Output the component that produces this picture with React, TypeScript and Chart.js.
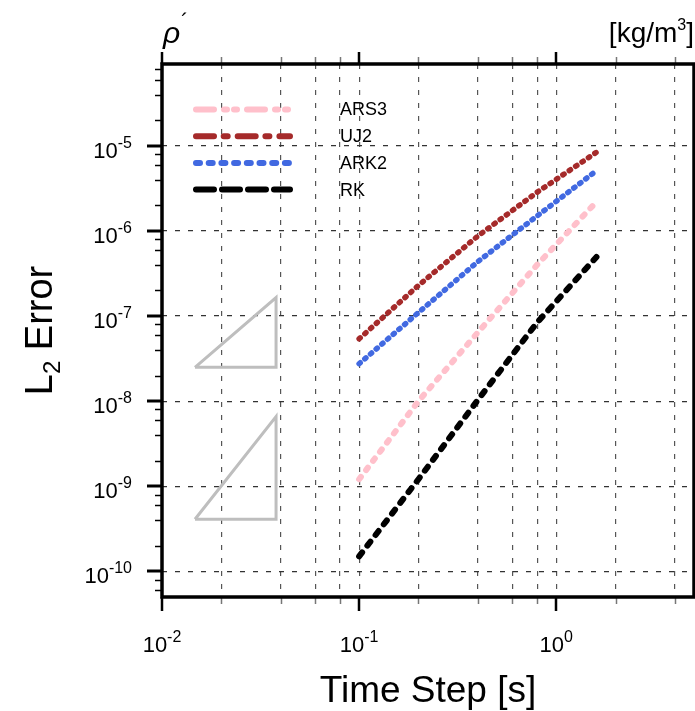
import React, { useEffect, useRef } from "react";
import { Chart, registerables } from "chart.js";

Chart.register(...registerables);

// ---------------- data ----------------
const timeSteps = [0.1, 0.2, 0.4, 0.8, 1.6];
const seriesNames = ["ARS3", "UJ2", "ARK2", "RK"];
const ars3Err = [1.21e-9, 1.0e-8, 6.4e-8, 4.0e-7, 2.2e-6];
const uj2Err = [5.4e-8, 2.29e-7, 8.7e-7, 2.85e-6, 8.4e-6];
const ark2Err = [2.75e-8, 1.1e-7, 4.35e-7, 1.5e-6, 5.1e-6];
const rkErr = [1.5e-10, 1.21e-9, 1.03e-8, 8.4e-8, 4.95e-7];

// slope reference triangles (2nd and 3rd order)
const triangleX = [0.0147, 0.0379];
const secondOrderY = [2.5e-8, 1.65e-7];
const thirdOrderY = [4.1e-10, 6.6e-9];

// axes
const xRange = [0.01, 5];
const yRange = [5e-11, 9.15e-5];
const xGridTicks = [0.02, 0.04, 0.06, 0.08, 0.1, 0.2, 0.4, 0.6, 0.8, 1, 2, 4];
const xMajorTicks = [0.01, 0.1, 1];
const xMajorExp = ["-2", "-1", "0"];
const xMinorTicks = [0.02, 0.04, 0.06, 0.08, 0.2, 0.4, 0.6, 0.8, 2, 4];
const yMajorTicks = [1e-10, 1e-9, 1e-8, 1e-7, 1e-6, 1e-5];
const yMajorExp = ["-10", "-9", "-8", "-7", "-6", "-5"];
const yMinorTicks = [
  6e-11, 8e-11,
  2e-10, 4e-10, 6e-10, 8e-10,
  2e-9, 4e-9, 6e-9, 8e-9,
  2e-8, 4e-8, 6e-8, 8e-8,
  2e-7, 4e-7, 6e-7, 8e-7,
  2e-6, 4e-6, 6e-6, 8e-6,
  2e-5, 4e-5, 6e-5, 8e-5,
];

const xTitle = "Time Step [s]";
const yTitleMain = "L";
const yTitleSub = "2";
const yTitleRest = " Error";
const topLeftLabel = "ρ";
const topRightLabel = "[kg/m";
const topRightSup = "3";

// ---------------- styles ----------------
const FONT = '"Liberation Sans", Arial, Helvetica, sans-serif';
const seriesValues = [ars3Err, uj2Err, ark2Err, rkErr];
const lineColors = ["#FFC0CB", "#A52A2A", "#4169E1", "#000000"];
const lineWidths = [6, 5.5, 5.5, 6];
const lineDashes = [
  [3, 8.5],
  [1.5, 6.2],
  [1.5, 6.0],
  [5, 8.5],
];
const legendDashes = [
  [18, 10, 3, 7, 3, 10],
  [18, 9.7, 4, 10],
  [4, 8.7],
  [18, 8],
];

function drawPow(ctx: CanvasRenderingContext2D, exp: string, x: number, baseline: number, align: "center" | "right") {
  ctx.font = `22px ${FONT}`;
  const wb = ctx.measureText("10").width;
  ctx.font = `16px ${FONT}`;
  const we = ctx.measureText(exp).width;
  const total = wb + we;
  const x0 = align === "center" ? x - total / 2 : x - total;
  ctx.textAlign = "left";
  ctx.textBaseline = "alphabetic";
  ctx.fillStyle = "#000";
  ctx.font = `22px ${FONT}`;
  ctx.fillText("10", x0, baseline);
  ctx.font = `16px ${FONT}`;
  ctx.fillText(exp, x0 + wb, baseline - 10);
}

const decorPlugin = {
  id: "decor",
  afterDraw(chart: any) {
    const ctx: CanvasRenderingContext2D = chart.ctx;
    const ca = chart.chartArea;
    const xs = chart.scales.x;
    const ys = chart.scales.y;
    ctx.save();
    ctx.lineCap = "butt";
    ctx.setLineDash([]);

    const seg = (x1: number, y1: number, x2: number, y2: number, w: number, c: string) => {
      ctx.beginPath();
      ctx.strokeStyle = c;
      ctx.lineWidth = w;
      ctx.moveTo(x1, y1);
      ctx.lineTo(x2, y2);
      ctx.stroke();
    };

    // left axis ticks
    yMajorTicks.forEach((v) => {
      const p = Math.round(ys.getPixelForValue(v));
      seg(ca.left - 15, p, ca.left, p, 3, "#000");
    });
    yMinorTicks.forEach((v) => {
      const p = Math.round(ys.getPixelForValue(v)) + 0.5;
      seg(ca.left - 7, p, ca.left, p, 1.5, "#000");
    });
    // bottom & top ticks
    xMajorTicks.forEach((v) => {
      const p = Math.round(xs.getPixelForValue(v));
      seg(p, ca.bottom, p, ca.bottom + 14, 2.5, "#000");
      seg(p, ca.top - 12, p, ca.top, 2.5, "#000");
    });
    xMinorTicks.forEach((v) => {
      const p = Math.round(xs.getPixelForValue(v)) + 0.5;
      seg(p, ca.bottom, p, ca.bottom + 7, 1.5, "#777");
      seg(p, ca.top - 7, p, ca.top, 1.5, "#777");
    });

    // frame
    ctx.lineWidth = 3.5;
    ctx.strokeStyle = "#000";
    ctx.strokeRect(ca.left, ca.top, ca.right - ca.left, ca.bottom - ca.top);

    // tick labels
    xMajorTicks.forEach((v, i) => {
      drawPow(ctx, xMajorExp[i], xs.getPixelForValue(v), ca.bottom + 55, "center");
    });
    yMajorTicks.forEach((v, i) => {
      drawPow(ctx, yMajorExp[i], ca.left - 30, ys.getPixelForValue(v) + 12, "right");
    });

    // legend
    const lx0 = ca.left + 34;
    const lx1 = ca.left + 128;
    seriesNames.forEach((name, i) => {
      const ly = ca.top + 45.5 + i * 26.7;
      ctx.beginPath();
      ctx.setLineDash(legendDashes[i]);
      ctx.lineDashOffset = 0;
      ctx.lineCap = "round";
      ctx.lineWidth = 6;
      ctx.strokeStyle = lineColors[i];
      ctx.moveTo(lx0, ly);
      ctx.lineTo(lx1, ly);
      ctx.stroke();
      ctx.setLineDash([]);
      ctx.fillStyle = "#000";
      ctx.font = `18px ${FONT}`;
      ctx.textAlign = "left";
      ctx.textBaseline = "middle";
      ctx.fillText(name, ca.left + 178, ly + 1);
    });

    // x title
    ctx.fillStyle = "#000";
    ctx.textAlign = "center";
    ctx.textBaseline = "alphabetic";
    ctx.font = `37px ${FONT}`;
    ctx.fillText(xTitle, (ca.left + ca.right) / 2, 702);

    // y title (rotated)
    ctx.save();
    ctx.translate(52, (ca.top + ca.bottom) / 2);
    ctx.rotate(-Math.PI / 2);
    ctx.textAlign = "left";
    ctx.font = `38px ${FONT}`;
    const wL = ctx.measureText(yTitleMain).width;
    const wR = ctx.measureText(yTitleRest).width;
    ctx.font = `24px ${FONT}`;
    const wS = ctx.measureText(yTitleSub).width;
    const tot = wL + wS + wR;
    let cx = -tot / 2;
    ctx.font = `38px ${FONT}`;
    ctx.fillText(yTitleMain, cx, 0);
    cx += wL;
    ctx.font = `24px ${FONT}`;
    ctx.fillText(yTitleSub, cx, 8);
    cx += wS;
    ctx.font = `38px ${FONT}`;
    ctx.fillText(yTitleRest, cx, 0);
    ctx.restore();

    // top-left label: rho prime
    ctx.textAlign = "left";
    ctx.font = `italic 30px ${FONT}`;
    ctx.fillText(topLeftLabel, ca.left + 1, 43);
    ctx.font = `22px ${FONT}`;
    ctx.fillText("´", ca.left + 19, 29);

    // top-right units
    ctx.font = `28px ${FONT}`;
    const wBr = ctx.measureText("]").width;
    const wMain = ctx.measureText(topRightLabel).width;
    ctx.font = `16px ${FONT}`;
    const wSup = ctx.measureText(topRightSup).width;
    let rx = ca.right - (wMain + wSup + wBr);
    ctx.font = `28px ${FONT}`;
    ctx.fillText(topRightLabel, rx, 42);
    rx += wMain;
    ctx.font = `16px ${FONT}`;
    ctx.fillText(topRightSup, rx, 30);
    rx += wSup;
    ctx.font = `28px ${FONT}`;
    ctx.fillText("]", rx, 42);

    ctx.restore();
  },
};

export default function App() {
  const ref = useRef<HTMLCanvasElement>(null);

  useEffect(() => {
    if (!ref.current) return;
    const seriesSets = seriesNames.map((name, i) => ({
      label: name,
      data: timeSteps.map((t, j) => ({ x: t, y: seriesValues[i][j] })),
      borderColor: lineColors[i],
      borderWidth: lineWidths[i],
      borderDash: lineDashes[i],
      borderCapStyle: "round" as const,
      borderJoinStyle: "round" as const,
      pointRadius: 0,
      fill: false,
      tension: 0,
    }));
    const triSets = [secondOrderY, thirdOrderY].map((ty, k) => ({
      label: `tri${k}`,
      data: [
        { x: triangleX[0], y: ty[0] },
        { x: triangleX[1], y: ty[0] },
        { x: triangleX[1], y: ty[1] },
        { x: triangleX[0], y: ty[0] },
      ],
      borderColor: "#BEBEBE",
      borderWidth: 3,
      borderJoinStyle: "miter" as const,
      pointRadius: 0,
      fill: false,
      tension: 0,
    }));

    const chart = new Chart(ref.current, {
      type: "line",
      data: { datasets: [...triSets, ...seriesSets] as any },
      options: {
        responsive: false,
        animation: false,
        devicePixelRatio: 1,
        layout: { padding: { top: 64, right: 1, left: 0, bottom: 0 } },
        plugins: { legend: { display: false }, tooltip: { enabled: false } },
        scales: {
          x: {
            type: "logarithmic",
            min: xRange[0],
            max: xRange[1],
            bounds: "data",
            afterBuildTicks: (s: any) => {
              s.ticks = xGridTicks.map((v) => ({ value: v }));
            },
            afterFit: (s: any) => {
              s.height = 114;
            },
            ticks: { display: false },
            grid: { color: "#555", lineWidth: 1.2, drawTicks: false },
            border: { display: false, dash: [5, 8] },
          },
          y: {
            type: "logarithmic",
            min: yRange[0],
            max: yRange[1],
            bounds: "data",
            afterBuildTicks: (s: any) => {
              s.ticks = yMajorTicks.map((v) => ({ value: v }));
            },
            afterFit: (s: any) => {
              s.width = 162;
            },
            ticks: { display: false },
            grid: { color: "#333", lineWidth: 1.2, drawTicks: false },
            border: { display: false, dash: [5, 8] },
          },
        },
      } as any,
      plugins: [decorPlugin],
    });
    return () => chart.destroy();
  }, []);

  return (
    <div style={{ position: "absolute", left: 0, top: 0, width: 695, height: 711 }}>
      <canvas ref={ref} width={695} height={711} style={{ display: "block", width: 695, height: 711 }} />
    </div>
  );
}
